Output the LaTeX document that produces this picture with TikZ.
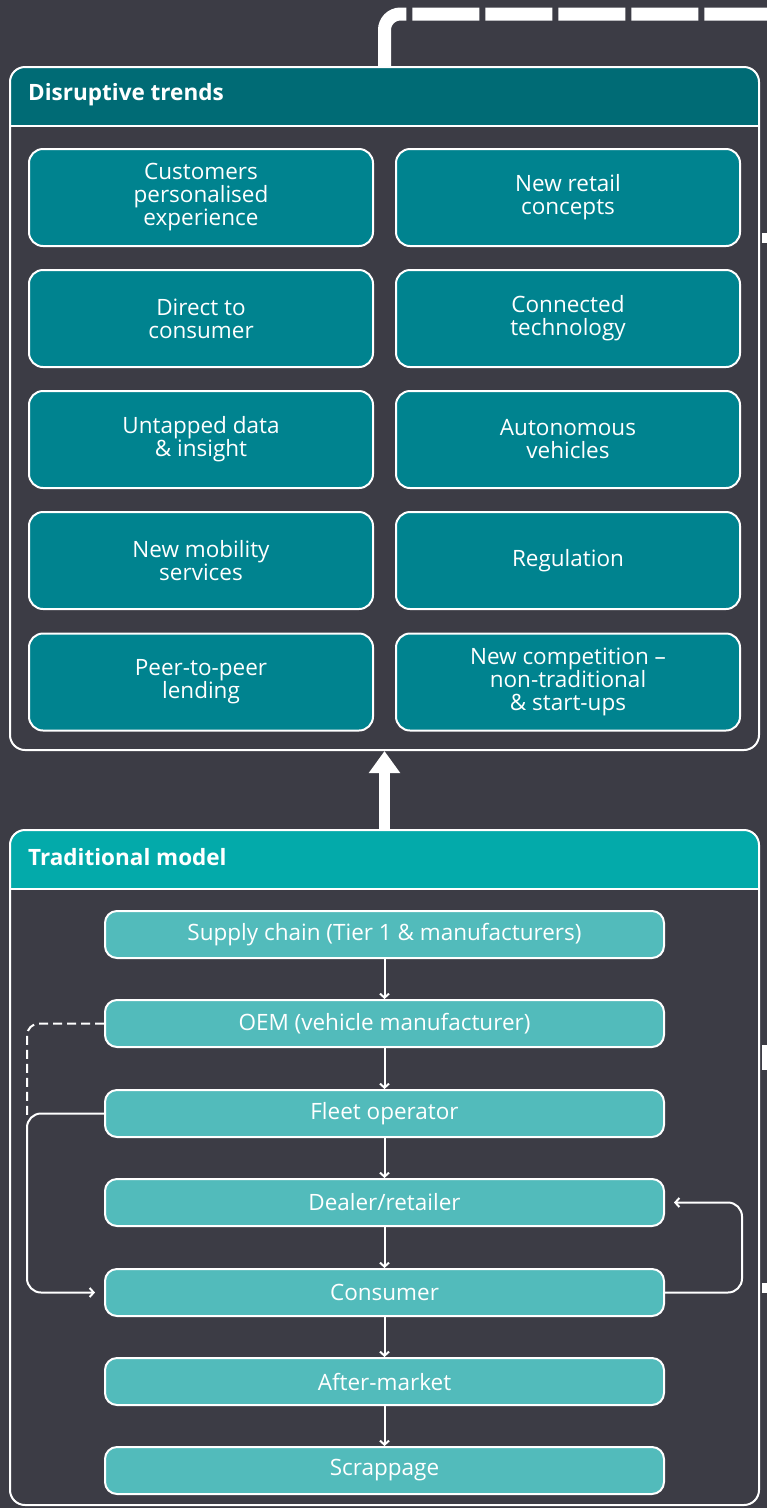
\documentclass[tikz,border=0pt]{standalone}
\usepackage{fontspec}
\setmainfont{Open Sans}
\usetikzlibrary{arrows.meta}
\tikzset{>={Straight Barb[length=4pt,width=9pt]}}
\definecolor{bgcol}{HTML}{3C3C45}
\definecolor{trendhead}{HTML}{006B75}
\definecolor{trendfill}{HTML}{00838F}
\definecolor{modelhead}{HTML}{03AAAA}
\definecolor{stagefill}{HTML}{52BBBB}
\newcommand{\boxfont}{\fontsize{22.5}{23}\selectfont}
\tikzset{
  panel/.style={draw=white, line width=2pt, rounded corners=15pt, minimum width=749pt, inner sep=0pt,
    path picture={
      \fill[#1, sharp corners] (path picture bounding box.north west) rectangle ([yshift=-59pt]path picture bounding box.north east);
      \draw[white, line width=2pt, sharp corners] ([yshift=-59pt]path picture bounding box.north west) -- ([yshift=-59pt]path picture bounding box.north east);
    }},
  paneltitle/.style={anchor=west, text=white, font=\boxfont\bfseries, inner sep=0pt},
  trend/.style={draw=white, line width=2pt, fill=trendfill, rounded corners=14pt, text=white, font=\boxfont,
    align=center, minimum width=344pt, minimum height=97pt, inner sep=0pt},
  stage/.style={draw=white, line width=2pt, fill=stagefill, rounded corners=12pt, text=white, font=\boxfont,
    minimum width=559pt, minimum height=47pt, inner sep=0pt},
  link/.style={->, white, line width=2pt},
}

\begin{document}
\begin{tikzpicture}[x=1pt,y=-1pt]
  \useasboundingbox (0,0) rectangle (767,1508);
  \fill[bgcol] (0,0) rectangle (767,1508);
  % panels
  \node[panel=trendhead, minimum height=683pt] (trends) at (384.5,408.5) {};
  \node[panel=modelhead, minimum height=675pt] (model) at (384.5,1167.5) {};
  \node[paneltitle] (trendtitle) at (28,95) {Disruptive trends};
  \node[paneltitle] (modeltitle) at (28,857) {Traditional model};
  % disruptive trends
  \node[trend] (cpe)   at (201,197.5) {Customers\\personalised\\experience};
  \node[trend] (nrc)   at (568,197.5) {New retail\\concepts};
  \node[trend] (dtc)   at (201,318.5) {Direct to\\consumer};
  \node[trend] (ct)    at (568,318.5) {Connected\\technology};
  \node[trend] (udi)   at (201,439.5) {Untapped data\\\& insight};
  \node[trend] (av)    at (568,439.5) {Autonomous\\vehicles};
  \node[trend] (nms)   at (201,560.5) {New mobility\\services};
  \node[trend] (reg)   at (568,560.5) {Regulation};
  \node[trend] (p2p)   at (201,682)   {Peer-to-peer\\lending};
  \node[trend] (ncomp) at (568,682)   {New competition --\\non-traditional\\\& start-ups};
  % traditional model
  \node[stage] (supply)   at (384.5,934.5)  {Supply chain (Tier 1 \& manufacturers)};
  \node[stage] (oem)      at (384.5,1023.5) {OEM (vehicle manufacturer)};
  \node[stage] (fleet)    at (384.5,1113.5) {Fleet operator};
  \node[stage] (dealer)   at (384.5,1202.5) {Dealer/retailer};
  \node[stage] (consumer) at (384.5,1292.5) {Consumer};
  \node[stage] (aftermkt) at (384.5,1381.5) {After-market};
  \node[stage] (scrap)    at (384.5,1470.5) {Scrappage};
  \foreach \a/\b in {supply/oem, oem/fleet, fleet/dealer, dealer/consumer, consumer/aftermkt, aftermkt/scrap}
    \draw[link] (\a) -- (\b);
  % side loops
  \coordinate (oemdrop) at (27,1118);
  \draw[white, line width=2pt, dash pattern=on 9pt off 5pt, rounded corners=12pt] (oem.west) -| (oemdrop);
  \draw[link, rounded corners=14pt, shorten >=9pt] (fleet.west) -- ++(-77,0) |- (consumer.west);
  \draw[link, rounded corners=14pt, shorten >=9pt] (consumer.east) -- ++(77,0) |- (dealer.east);
  % big arrows
  \draw[white, line width=11pt, -{Triangle[length=22pt,width=30pt]}] (model.north) -- (trends.south);
  \coordinate (topright) at (767,14);
  \draw[white, line width=13pt, dash pattern=on 67pt off 6pt, rounded corners=16pt] (trends.north) |- (topright);
  % edge stubs
  \fill[white] (762,233) rectangle (767,243);
  \fill[white] (762,1045) rectangle (767,1070);
  \fill[white] (762,1283) rectangle (767,1293);
\end{tikzpicture}
\end{document}
